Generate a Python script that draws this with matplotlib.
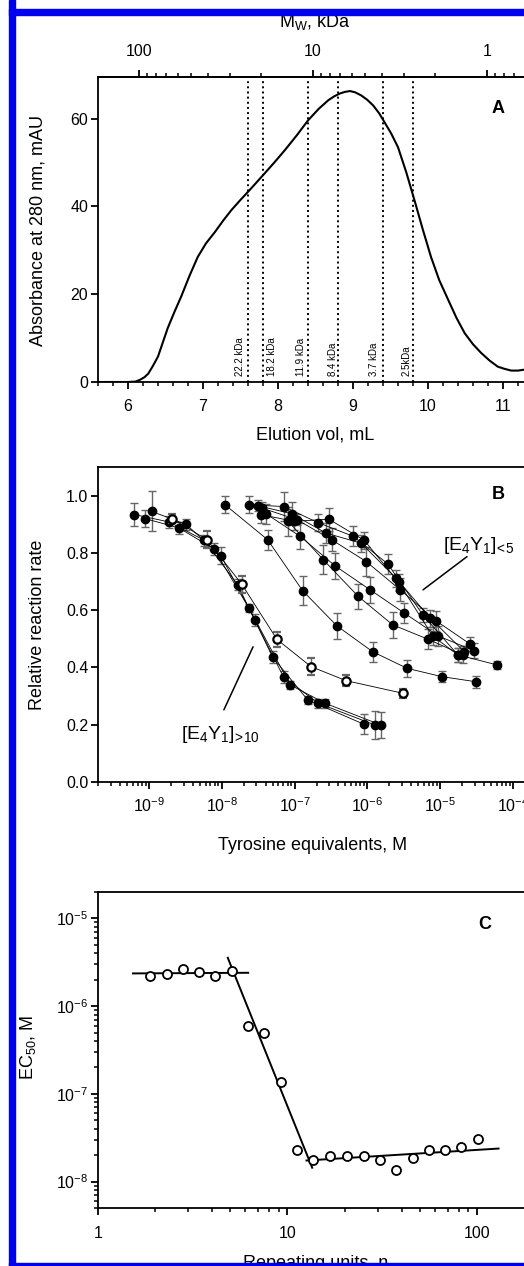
import numpy as np
import matplotlib
matplotlib.use('Agg')
import matplotlib.pyplot as plt
from matplotlib import ticker
from matplotlib.patches import Rectangle

plt.rcParams['font.family'] = 'Liberation Sans'
plt.rcParams['mathtext.fontset'] = 'custom'
plt.rcParams['mathtext.rm'] = 'Liberation Sans'
plt.rcParams['mathtext.it'] = 'Liberation Sans:italic'
plt.rcParams['mathtext.bf'] = 'Liberation Sans:bold'
plt.rcParams['mathtext.default'] = 'regular'
plt.rcParams['axes.unicode_minus'] = False

# ---- A: SEC trace ----
elution_ml = [5.6, 5.8, 6.0, 6.1, 6.16, 6.22, 6.27, 6.33, 6.4, 6.46, 6.53, 6.62, 6.71, 6.82,
              6.93, 7.04, 7.16, 7.27, 7.38, 7.5, 7.62, 7.72, 7.82, 7.95, 8.09, 8.25, 8.4, 8.54,
              8.67, 8.75, 8.82, 8.89, 8.96, 9.03, 9.11, 9.19, 9.27, 9.35, 9.42, 9.51, 9.6, 9.71,
              9.82, 9.93, 10.04, 10.15, 10.27, 10.38, 10.49, 10.6, 10.71, 10.82, 10.93, 11.02,
              11.11, 11.2, 11.28, 11.4]
absorbance_mau = [0, 0, 0, 0.1, 0.5, 1.1, 1.9, 3.6, 5.8, 8.8, 12.3, 16.0, 19.5, 24.2,
                  28.5, 31.6, 34.2, 36.8, 39.2, 41.5, 43.7, 45.6, 47.5, 50.0, 52.8, 56.2, 59.6, 62.2,
                  64.2, 65.1, 65.7, 66.1, 66.3, 66.0, 65.3, 64.3, 63.0, 61.2, 59.2, 56.6, 53.5, 47.8,
                  41.4, 34.8, 28.5, 23.2, 18.7, 14.6, 11.1, 8.6, 6.6, 4.9, 3.5, 3.0,
                  2.6, 2.6, 2.8, 3.3]
cut_vol = [7.6, 7.8, 8.4, 8.8, 9.4, 9.8]
cut_mw = ['22.2 kDa', '18.2 kDa', '11.9 kDa', '8.4 kDa', '3.7 kDa', '2.5kDa']
mw_ticks = [100, 10, 1]

# ---- B: inhibition curves (tyrosine equiv., M / relative rate / sd) ----
conc_1 = [6.3e-10, 1.9e-9, 5.75e-9, 1.65e-8, 5.0e-8, 1.51e-7, 9.06e-7]
rate_1 = [0.934, 0.908, 0.844, 0.689, 0.436, 0.287, 0.201]
sd_1 = [0.04, 0.02, 0.02, 0.02, 0.02, 0.015, 0.035]

conc_2 = [8.8e-10, 2.6e-9, 7.9e-9, 2.36e-8, 7.08e-8, 2.12e-7, 1.27e-6]
rate_2 = [0.92, 0.887, 0.813, 0.607, 0.366, 0.275, 0.199]
sd_2 = [0.03, 0.02, 0.02, 0.015, 0.02, 0.015, 0.05]

conc_3 = [1.09e-9, 3.22e-9, 9.75e-9, 2.89e-8, 8.72e-8, 2.62e-7, 1.54e-6]
rate_3 = [0.945, 0.90, 0.79, 0.566, 0.339, 0.275, 0.199]
sd_3 = [0.07, 0.02, 0.03, 0.02, 0.015, 0.015, 0.045]

conc_4 = [1.11e-8, 4.27e-8, 1.29e-7, 3.82e-7, 1.18e-6, 3.5e-6, 1.05e-5, 3.1e-5]
rate_4 = [0.968, 0.846, 0.668, 0.545, 0.455, 0.397, 0.368, 0.35]
sd_4 = [0.03, 0.035, 0.05, 0.045, 0.035, 0.03, 0.02, 0.02]

conc_5 = [2.39e-8, 7.08e-8, 2.08e-7, 6.4e-7, 1.9e-6, 5.75e-6, 1.74e-5, 6.0e-5]
rate_5 = [0.968, 0.962, 0.906, 0.858, 0.762, 0.584, 0.444, 0.409]
sd_5 = [0.03, 0.05, 0.03, 0.035, 0.035, 0.025, 0.025, 0.015]

conc_6 = [3.11e-8, 9.1e-8, 2.72e-7, 8.2e-7, 2.47e-6, 7.31e-6, 2.14e-5]
rate_6 = [0.965, 0.937, 0.869, 0.834, 0.712, 0.572, 0.455]
sd_6 = [0.02, 0.04, 0.035, 0.03, 0.03, 0.03, 0.02]

conc_7 = [3.53e-8, 1.08e-7, 3.23e-7, 9.6e-7, 2.83e-6, 8.75e-6, 2.59e-5]
rate_7 = [0.957, 0.916, 0.846, 0.77, 0.671, 0.563, 0.481]
sd_7 = [0.02, 0.02, 0.04, 0.05, 0.04, 0.035, 0.025]

conc_8 = [4.05e-8, 1.19e-7, 3.59e-7, 1.09e-6, 3.21e-6, 9.4e-6, 2.88e-5]
rate_8 = [0.937, 0.858, 0.755, 0.671, 0.59, 0.51, 0.459]
sd_8 = [0.035, 0.045, 0.045, 0.045, 0.035, 0.035, 0.025]

conc_9 = [3.45e-8, 9.9e-8, 2.94e-7, 9.06e-7, 2.69e-6, 7.88e-6, 1.74e-5]
rate_9 = [0.934, 0.91, 0.918, 0.844, 0.697, 0.51, 0.444]
sd_9 = [0.03, 0.03, 0.04, 0.03, 0.03, 0.03, 0.025]

conc_10 = [8.2e-8, 2.48e-7, 7.5e-7, 2.22e-6, 6.73e-6, 2.04e-5]
rate_10 = [0.91, 0.776, 0.648, 0.549, 0.499, 0.444]
sd_10 = [0.05, 0.05, 0.045, 0.045, 0.035, 0.03]

# open symbols
conc_open = [2.07e-9, 6.27e-9, 1.89e-8, 5.73e-8, 1.68e-7, 5.08e-7, 3.05e-6]
rate_open = [0.92, 0.846, 0.69, 0.498, 0.403, 0.354, 0.31]
sd_open = [0.015, 0.03, 0.03, 0.025, 0.03, 0.02, 0.015]

# ---- C: EC50 vs chain length ----
n_units = [1.88, 2.31, 2.80, 3.43, 4.15, 5.09, 6.22, 7.56, 9.23, 11.2, 13.7, 16.8, 20.6,
           25.2, 30.6, 37.5, 45.7, 55.6, 67.9, 82.7, 101]
ec50 = [2.20e-6, 2.34e-6, 2.62e-6, 2.44e-6, 2.20e-6, 2.51e-6, 5.92e-7, 4.98e-7, 1.37e-7,
        2.28e-8, 1.74e-8, 1.95e-8, 1.95e-8, 1.95e-8, 1.74e-8, 1.34e-8, 1.84e-8, 2.28e-8,
        2.28e-8, 2.49e-8, 3.02e-8]
# fitted segments (end points)
fit1_n, fit1_ec = [1.53, 6.2], [2.36e-6, 2.40e-6]
fit2_n, fit2_ec = [4.84, 13.5], [3.56e-6, 1.44e-8]
fit3_n, fit3_ec = [12.6, 130], [1.74e-8, 2.38e-8]

W, H = 524, 1266
fig = plt.figure(figsize=(W / 100, H / 100), dpi=100)


def box(left, top, right, bottom):
    return [left / W, 1 - bottom / H, (right - left) / W, (bottom - top) / H]


def fpos(x, y):
    return x / W, 1 - y / H


def style_axis(ax):
    for s in ['top', 'bottom', 'left', 'right']:
        ax.spines[s].set_linewidth(1.3)
    ax.spines['right'].set_visible(False)
    ax.tick_params(which='both', direction='out', top=False, right=False,
                   labelsize=11.5, width=1.3)
    ax.tick_params(which='major', length=5)
    ax.tick_params(which='minor', length=3, width=1.1)


# panel A
axA = fig.add_axes(box(98, 77, 578, 382))
style_axis(axA)
axA.plot(elution_ml, absorbance_mau, color='black', lw=1.5)
label_dx = [-0.11, 0.12, -0.10, -0.07, -0.12, -0.09]
for v, lbl, dx in zip(cut_vol, cut_mw, label_dx):
    axA.axvline(v, color='black', ls=':', lw=1.4)
    axA.text(v + dx, 1.4, lbl, rotation=90, ha='center', va='bottom', fontsize=7)
axA.set_xlim(5.6, 12)
axA.set_ylim(0, 69.5)
axA.xaxis.set_major_locator(ticker.MultipleLocator(1))
axA.xaxis.set_minor_locator(ticker.MultipleLocator(0.2))
axA.yaxis.set_major_locator(ticker.MultipleLocator(20))
axA.tick_params(axis='x', pad=7)
axA.tick_params(axis='y', pad=2)
axA.text(10.93, 62.3, 'A', fontsize=13, weight='bold', ha='center', va='center')
axA.set_xlabel('Elution vol, mL', fontsize=13, va='center')
axA.xaxis.set_label_coords(*fpos(315, 435), transform=fig.transFigure)
axA.set_ylabel('Absorbance at 280 nm, mAU', fontsize=13, va='center')
axA.yaxis.set_label_coords(*fpos(38, 230), transform=fig.transFigure)

axM = axA.twiny()
axM.set_xscale('log')
axM.set_xlim(172, 0.30)
for s in ['bottom', 'left', 'right']:
    axM.spines[s].set_visible(False)
axM.spines['top'].set_linewidth(1.3)
axM.xaxis.set_major_locator(ticker.FixedLocator(mw_ticks))
axM.xaxis.set_major_formatter(ticker.FuncFormatter(lambda v, p: f'{v:g}'))
axM.xaxis.set_minor_locator(ticker.LogLocator(subs=np.arange(2, 10), numticks=50))
axM.xaxis.set_minor_formatter(ticker.NullFormatter())
axM.tick_params(which='both', direction='out', labelsize=11.5, width=1.3, pad=8)
axM.tick_params(which='major', length=5)
axM.tick_params(which='minor', length=3, width=1.1)
axM.set_xlabel('M$_W$, kDa', fontsize=13, va='center')
axM.xaxis.set_label_coords(*fpos(315, 22), transform=fig.transFigure)

# panel B
axB = fig.add_axes(box(98, 467, 535, 782))
style_axis(axB)
filled = [(conc_1, rate_1, sd_1), (conc_2, rate_2, sd_2), (conc_3, rate_3, sd_3),
          (conc_4, rate_4, sd_4), (conc_5, rate_5, sd_5), (conc_6, rate_6, sd_6),
          (conc_7, rate_7, sd_7), (conc_8, rate_8, sd_8), (conc_9, rate_9, sd_9),
          (conc_10, rate_10, sd_10)]
for c, r, e in filled:
    axB.errorbar(c, r, yerr=e, fmt='-o', color='black', lw=0.6, ms=6,
                 ecolor='#666666', elinewidth=1, capsize=3, capthick=1)
axB.errorbar(conc_open, rate_open, yerr=sd_open, fmt='-o', color='black', lw=0.6, ms=6,
             mfc='white', mec='black', mew=1.6,
             ecolor='#666666', elinewidth=1, capsize=3, capthick=1, zorder=3)
axB.set_xscale('log')
axB.set_xlim(2e-10, 2e-4)
axB.set_ylim(0, 1.1)
axB.yaxis.set_major_locator(ticker.MultipleLocator(0.2))
axB.yaxis.set_major_formatter(ticker.FormatStrFormatter('%.1f'))
axB.xaxis.set_major_locator(ticker.LogLocator(numticks=20))
axB.xaxis.set_minor_locator(ticker.LogLocator(subs=np.arange(2, 10), numticks=100))
axB.xaxis.set_minor_formatter(ticker.NullFormatter())
axB.tick_params(axis='x', pad=5)
axB.tick_params(axis='y', pad=2)
axB.text(6.2e-5, 1.003, 'B', fontsize=13, weight='bold', ha='center', va='center')
axB.text(1.09e-5, 0.825, r'[E$_4$Y$_1$]$_{\!<\!5}$', fontsize=14, ha='left', va='center')
axB.annotate('', xy=(5.8e-6, 0.671), xytext=(2.33e-5, 0.787),
             arrowprops=dict(arrowstyle='-', lw=1.1, color='black', shrinkA=0, shrinkB=0))
axB.text(2.75e-9, 0.165, r'[E$_4$Y$_1$]$_{\!>\!10}$', fontsize=14, ha='left', va='center')
axB.annotate('', xy=(2.69e-8, 0.472), xytext=(1.07e-8, 0.252),
             arrowprops=dict(arrowstyle='-', lw=1.1, color='black', shrinkA=0, shrinkB=0))
axB.set_xlabel('Tyrosine equivalents, M', fontsize=13, va='center')
axB.xaxis.set_label_coords(*fpos(313, 845), transform=fig.transFigure)
axB.set_ylabel('Relative reaction rate', fontsize=13, va='center')
axB.yaxis.set_label_coords(*fpos(38, 625), transform=fig.transFigure)

# panel C
axC = fig.add_axes(box(98, 892, 534, 1208))
style_axis(axC)
axC.plot(n_units, ec50, 'o', ms=6.5, mfc='white', mec='black', mew=1.3, zorder=3)
for fn, fe in [(fit1_n, fit1_ec), (fit2_n, fit2_ec), (fit3_n, fit3_ec)]:
    axC.plot(fn, fe, color='black', lw=1.4)
axC.set_xscale('log')
axC.set_yscale('log')
axC.set_xlim(1, 200)
axC.set_ylim(5e-9, 2e-5)
axC.xaxis.set_major_formatter(ticker.FuncFormatter(lambda v, p: f'{v:g}'))
axC.xaxis.set_minor_locator(ticker.LogLocator(subs=np.arange(2, 10), numticks=50))
axC.xaxis.set_minor_formatter(ticker.NullFormatter())
axC.yaxis.set_major_locator(ticker.LogLocator(numticks=20))
axC.yaxis.set_minor_locator(ticker.LogLocator(subs=np.arange(2, 10), numticks=50))
axC.yaxis.set_minor_formatter(ticker.NullFormatter())
axC.tick_params(axis='x', pad=8)
axC.tick_params(axis='y', pad=2)
axC.text(110, 8.55e-6, 'C', fontsize=13, weight='bold', ha='center', va='center')
axC.set_xlabel('Repeating units, n', fontsize=13, va='center')
axC.xaxis.set_label_coords(*fpos(316, 1264), transform=fig.transFigure)
axC.set_ylabel('EC$_{50}$, M', fontsize=13, va='center')
axC.yaxis.set_label_coords(*fpos(28, 1047), transform=fig.transFigure)

# blue frame on left, top and bottom
frame = '#0000f0'
fig.add_artist(Rectangle((9 / W, 0), 6 / W, 1, transform=fig.transFigure,
                         color=frame, zorder=20))
fig.add_artist(Rectangle((9 / W, 1 - 15 / H), 1, 6 / H, transform=fig.transFigure,
                         color=frame, zorder=20))
fig.add_artist(Rectangle((9 / W, 0), 1, 3 / H, transform=fig.transFigure,
                         color=frame, zorder=20))

fig.savefig('out.png', dpi=100)
